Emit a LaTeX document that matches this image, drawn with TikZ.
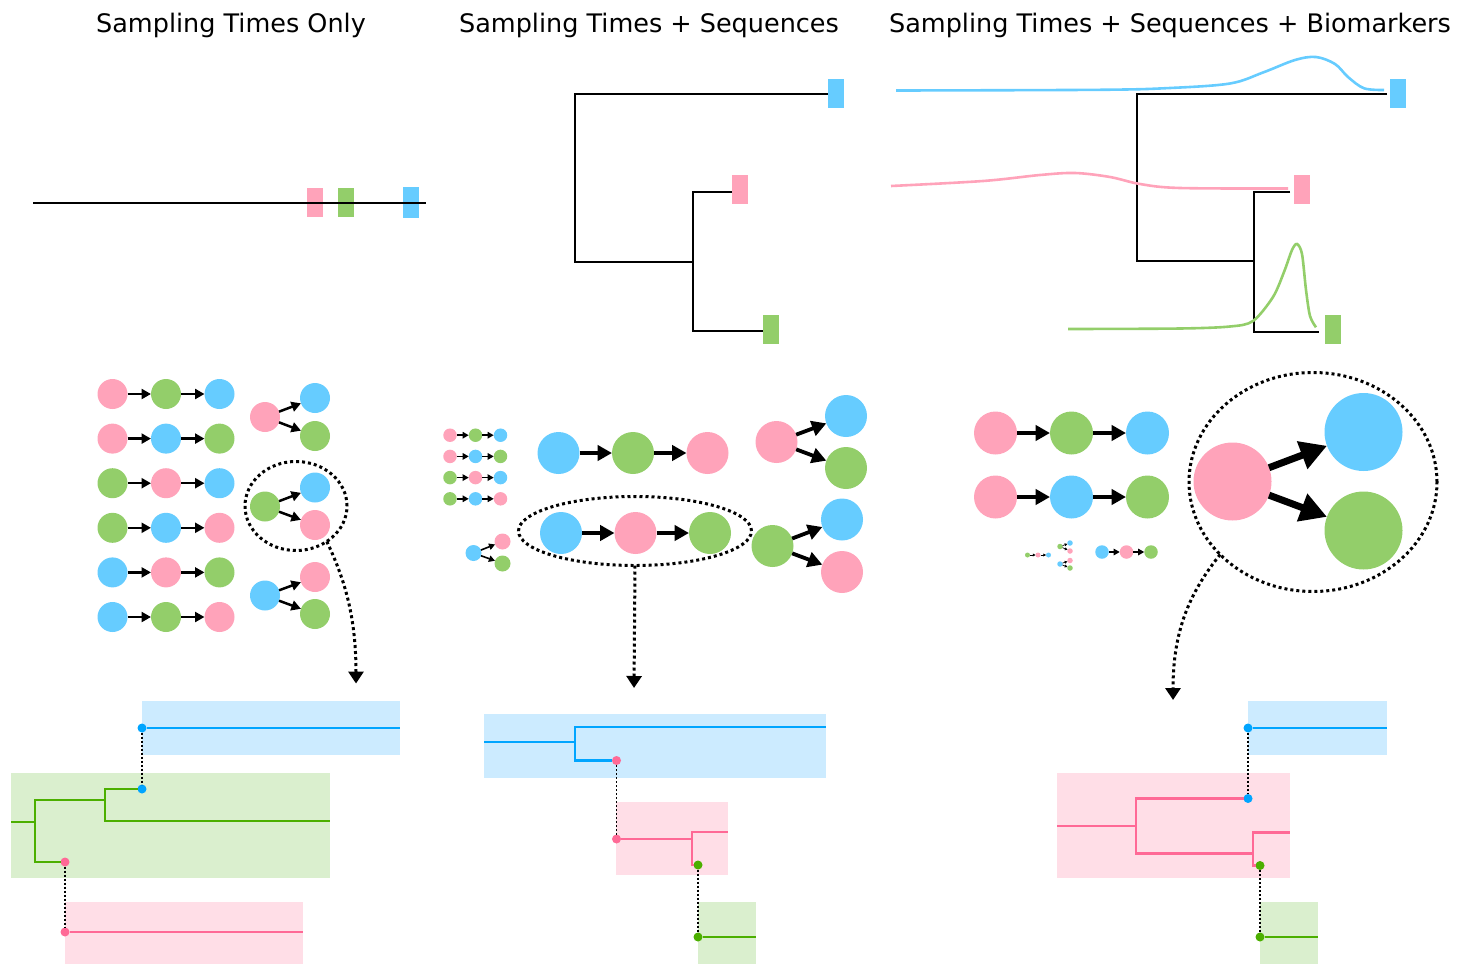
\documentclass[tikz,border=0pt]{standalone}
\usepackage{fontspec}
\setmainfont{DejaVu Sans}
\usetikzlibrary{arrows.meta, positioning, calc, shapes.geometric}

\definecolor{cpink}{HTML}{FFA3BA}
\definecolor{cgreen}{HTML}{93CE6A}
\definecolor{cblue}{HTML}{66CCFF}
\definecolor{tpink}{HTML}{FF6996}
\definecolor{tgreen}{HTML}{4CAF00}
\definecolor{tblue}{HTML}{00A5FF}
\definecolor{bpink}{HTML}{FFDEE7}
\definecolor{bgreen}{HTML}{DAEFCE}
\definecolor{bblue}{HTML}{CCEBFF}

\begin{document}
\begin{tikzpicture}[
    x=1pt, y=-1pt,
    line width=2.3pt,
    title/.style={anchor=base, font=\fontsize{25.5}{30}\selectfont},
    ball/.style={circle, inner sep=0pt, outer sep=0pt, minimum size=#1},
    ball/.default=30pt,
    leaf/.style={circle, inner sep=0pt, outer sep=0pt, minimum size=9pt},
    tipbox/.style={rectangle, inner sep=0pt, outer sep=0pt, minimum width=16pt, minimum height=29pt},
    link/.style={line width=#1, -{Triangle[length=0pt 3.8, width=0pt 4]}},
    ring/.style={ellipse, draw, inner sep=0pt, outer sep=0pt, line width=3pt, dash pattern=on 3pt off 3pt},
    zoomto/.style={line width=3pt, dash pattern=on 3pt off 3pt, -{Triangle[length=12pt, width=15pt]}},
    joint/.style={line width=1.6pt, dash pattern=on 2pt off 2pt}
  ]
  \useasboundingbox (0,0) rectangle (1466,964);

  % --- titulos ---
  \node[title] (h1) at (231,32)  {Sampling Times Only};
  \node[title] (h2) at (649,32)  {Sampling Times + Sequences};
  \node[title] (h3) at (1170,32) {Sampling Times + Sequences + Biomarkers};

  % --- fila superior: tiempos de muestreo ---
  \node[tipbox, fill=cpink] (s1p) at (315,202.5) {};
  \node[tipbox, fill=cgreen] (s1g) at (346,202.5) {};
  \node[tipbox, fill=cblue, minimum height=31pt] (s1b) at (410.5,202.5) {};
  \draw (33,203) -- (426,203);

  % --- fila superior: arbol ---
  \node[tipbox, fill=cblue]  (s2b) at (836,93.5) {};
  \node[tipbox, fill=cpink]  (s2p) at (740,189.5) {};
  \node[tipbox, fill=cgreen] (s2g) at (771,329.5) {};
  \draw (828,94) -| (575,262) -- (693,262);
  \draw (732,192) -| (693,331) -- (763,331);

  % --- fila superior: arbol con biomarcadores ---
  \node[tipbox, fill=cblue]  (s3b) at (1398,93.5) {};
  \node[tipbox, fill=cpink]  (s3p) at (1302,189.5) {};
  \node[tipbox, fill=cgreen] (s3g) at (1333,329.5) {};
  \draw (1387,94) -| (1137,261) -- (1254,261);
  \draw (1290,192) -| (1254,332) -- (1319,332);
  \draw[cblue, line width=2.6pt] plot[smooth, tension=0.55] coordinates {(896,90.5) (1100,89.8) (1170,88) (1230,83.5) (1263,72.5) (1295,60) (1316,57) (1335,64) (1348,77) (1364,88.3) (1384,90)};
  \draw[cpink, line width=2.6pt] plot[smooth, tension=0.55] coordinates {(891,186) (983,181) (1040,175) (1075,173) (1110,177) (1140,184) (1180,188) (1288,188.5)};
  \draw[cgreen, line width=2.6pt] plot[smooth, tension=0.5] coordinates {(1068,329) (1180,328.5) (1230,326.5) (1253,321) (1273,297) (1284,272) (1292,250) (1297,244) (1302,254) (1306,290) (1310,316) (1316,327.3)};

  % --- cadenas de transmision (panel 1) ---
  \foreach \ca/\cb/\cc [count=\i] in {cpink/cgreen/cblue, cpink/cblue/cgreen, cgreen/cpink/cblue, cgreen/cblue/cpink, cblue/cpink/cgreen, cblue/cgreen/cpink} {
    \node[ball, fill=\ca] (r\i-a) at (112.5,{349.4+44.6*\i}) {};
    \node[ball, fill=\cb] (r\i-b) at (166,{349.4+44.6*\i}) {};
    \node[ball, fill=\cc] (r\i-c) at (219.5,{349.4+44.6*\i}) {};
    \draw[link=2.5pt] (r\i-a) -- (r\i-b);
    \draw[link=2.5pt] (r\i-b) -- (r\i-c);
  }
  \node[ball, fill=cpink]  (f1)  at (265,417) {};
  \node[ball, fill=cblue]  (f1a) at (315,398) {};
  \node[ball, fill=cgreen] (f1b) at (315,436) {};
  \node[ball, fill=cgreen] (f2)  at (265,506.5) {};
  \node[ball, fill=cblue]  (f2a) at (315,487.5) {};
  \node[ball, fill=cpink]  (f2b) at (315,525) {};
  \node[ball, fill=cblue]  (f3)  at (265,595.5) {};
  \node[ball, fill=cpink]  (f3a) at (315,577) {};
  \node[ball, fill=cgreen] (f3b) at (315,614) {};
  \draw[link=2.5pt] (f1) -- (f1a);
  \draw[link=2.5pt] (f1) -- (f1b);
  \draw[link=2.5pt] (f2) -- (f2a);
  \draw[link=2.5pt] (f2) -- (f2b);
  \draw[link=2.5pt] (f3) -- (f3a);
  \draw[link=2.5pt] (f3) -- (f3b);
  \node[ring, minimum width=102pt, minimum height=89pt] (z1) at (296,506) {};
  \coordinate (z1end) at (356,683.5);
  \draw[zoomto] (z1.-49) .. controls (344,578) and (356,615) .. (z1end);

  % --- cadenas de transmision (panel 2) ---
  \foreach \ca/\cb/\cc [count=\i] in {cpink/cgreen/cblue, cpink/cblue/cgreen, cgreen/cpink/cblue, cgreen/cblue/cpink} {
    \node[ball=13.5pt, fill=\ca] (q\i-a) at (450,{414+21.2*\i}) {};
    \node[ball=13.5pt, fill=\cb] (q\i-b) at (475.5,{414+21.2*\i}) {};
    \node[ball=13.5pt, fill=\cc] (q\i-c) at (500.5,{414+21.2*\i}) {};
    \draw[link=1.6pt] (q\i-a) -- (q\i-b);
    \draw[link=1.6pt] (q\i-b) -- (q\i-c);
  }
  \node[ball=16pt, fill=cblue]  (g1)  at (473.5,553) {};
  \node[ball=16pt, fill=cpink]  (g1a) at (502.5,541.5) {};
  \node[ball=16pt, fill=cgreen] (g1b) at (502.5,563.5) {};
  \draw[link=1.6pt] (g1) -- (g1a);
  \draw[link=1.6pt] (g1) -- (g1b);

  \node[ball=42pt, fill=cblue]  (m1a) at (558.5,453) {};
  \node[ball=42pt, fill=cgreen] (m1b) at (633,453) {};
  \node[ball=42pt, fill=cpink]  (m1c) at (707.5,453) {};
  \node[ball=42pt, fill=cblue]  (m2a) at (561,533) {};
  \node[ball=42pt, fill=cpink]  (m2b) at (635.5,533) {};
  \node[ball=42pt, fill=cgreen] (m2c) at (710,533) {};
  \draw[link=3.8pt] (m1a) -- (m1b);
  \draw[link=3.8pt] (m1b) -- (m1c);
  \draw[link=3.8pt] (m2a) -- (m2b);
  \draw[link=3.8pt] (m2b) -- (m2c);
  \node[ball=42pt, fill=cpink]  (g2)  at (776.5,442) {};
  \node[ball=42pt, fill=cblue]  (g2a) at (846,416) {};
  \node[ball=42pt, fill=cgreen] (g2b) at (846,468) {};
  \node[ball=42pt, fill=cgreen] (g3)  at (772.5,546) {};
  \node[ball=42pt, fill=cblue]  (g3a) at (842,519.5) {};
  \node[ball=42pt, fill=cpink]  (g3b) at (842,572) {};
  \draw[link=3.8pt] (g2) -- (g2a);
  \draw[link=3.8pt] (g2) -- (g2b);
  \draw[link=3.8pt] (g3) -- (g3a);
  \draw[link=3.8pt] (g3) -- (g3b);
  \node[ring, minimum width=233pt, minimum height=69pt] (z2) at (635,531) {};
  \coordinate (z2end) at (634,688);
  \draw[zoomto] (z2.south) -- (z2end);

  % --- cadenas de transmision (panel 3) ---
  \node[ball=43pt, fill=cpink]  (k1a) at (995.5,433) {};
  \node[ball=43pt, fill=cgreen] (k1b) at (1071.5,433) {};
  \node[ball=43pt, fill=cblue]  (k1c) at (1147.5,433) {};
  \node[ball=43pt, fill=cpink]  (k2a) at (995.5,497) {};
  \node[ball=43pt, fill=cblue]  (k2b) at (1071.5,497) {};
  \node[ball=43pt, fill=cgreen] (k2c) at (1147.5,497) {};
  \draw[link=3.8pt] (k1a) -- (k1b);
  \draw[link=3.8pt] (k1b) -- (k1c);
  \draw[link=3.8pt] (k2a) -- (k2b);
  \draw[link=3.8pt] (k2b) -- (k2c);
  % miniaturas
  \node[ball=5pt, fill=cgreen] (t1a) at (1027.5,555) {};
  \node[ball=5pt, fill=cpink]  (t1b) at (1038,555) {};
  \node[ball=5pt, fill=cblue]  (t1c) at (1048.5,555) {};
  \draw[link=0.7pt] (t1a) -- (t1b);
  \draw[link=0.7pt] (t1b) -- (t1c);
  \node[ball=5.5pt, fill=cgreen] (t2)  at (1060,546.5) {};
  \node[ball=5.5pt, fill=cblue]  (t2a) at (1070,543) {};
  \node[ball=5.5pt, fill=cpink]  (t2b) at (1070,551) {};
  \node[ball=5.5pt, fill=cblue]  (t3)  at (1060,564) {};
  \node[ball=5.5pt, fill=cpink]  (t3a) at (1070,560.5) {};
  \node[ball=5.5pt, fill=cgreen] (t3b) at (1070,568) {};
  \draw[link=0.7pt] (t2) -- (t2a);
  \draw[link=0.7pt] (t2) -- (t2b);
  \draw[link=0.7pt] (t3) -- (t3a);
  \draw[link=0.7pt] (t3) -- (t3b);
  \node[ball=13.5pt, fill=cblue]  (u1a) at (1102,552) {};
  \node[ball=13.5pt, fill=cpink]  (u1b) at (1126.5,552) {};
  \node[ball=13.5pt, fill=cgreen] (u1c) at (1151,552) {};
  \draw[link=1.6pt] (u1a) -- (u1b);
  \draw[link=1.6pt] (u1b) -- (u1c);
  % par ampliado
  \node[ball=78pt, fill=cpink]  (w)  at (1232.5,481.5) {};
  \node[ball=78pt, fill=cblue]  (wa) at (1363.5,432) {};
  \node[ball=78pt, fill=cgreen] (wb) at (1363.5,530.5) {};
  \draw[link=7pt] (w) -- (wa);
  \draw[link=7pt] (w) -- (wb);
  \node[ring, minimum width=248pt, minimum height=219pt] (z3) at (1313,482) {};
  \coordinate (z3end) at (1173,700);
  \draw[zoomto] (z3.218.5) .. controls (1190,592) and (1173,630) .. (z3end);

  % --- arboles de transmision (panel 1) ---
  \fill[bblue]  (142,701) rectangle (400,755);
  \fill[bgreen] (11,773) rectangle (330,878);
  \fill[bpink]  (65,902) rectangle (303,964);
  \node[leaf, fill=tblue] (l1a) at (142,728) {};
  \node[leaf, fill=tblue] (l1b) at (142,789) {};
  \node[leaf, fill=tpink] (l1c) at (65,862) {};
  \node[leaf, fill=tpink] (l1d) at (65,932) {};
  \draw[tblue]  (l1a) -- (400,728);
  \draw[tgreen] (11,822) -- (35,822);
  \draw[tgreen] (l1c) -| (35,800) -| (105,821) -- (330,821);
  \draw[tgreen] (105,821) |- (l1b);
  \draw[tpink]  (l1d) -- (303,932);
  \draw[joint] (l1a) -- (l1b);
  \draw[joint] (l1c) -- (l1d);

  % --- arboles de transmision (panel 2) ---
  \fill[bblue]  (484,714) rectangle (826,778);
  \fill[bpink]  (616,802) rectangle (728,875);
  \fill[bgreen] (698,902) rectangle (756,964);
  \node[leaf, fill=tpink]  (l2a) at (616.5,760.5) {};
  \node[leaf, fill=tpink]  (l2b) at (616.5,839) {};
  \node[leaf, fill=tgreen] (l2c) at (698,865) {};
  \node[leaf, fill=tgreen] (l2d) at (698,937) {};
  \draw[tblue]  (484,742) -- (575,742);
  \draw[tblue]  (l2a) -| (575,727) -- (826,727);
  \draw[tpink]  (l2b) -- (692,839);
  \draw[tpink]  (l2c) -| (692,832) -- (728,832);
  \draw[tgreen] (l2d) -- (756,937);
  \draw[joint] (l2a) -- (l2b);
  \draw[joint] (l2c) -- (l2d);

  % --- arboles de transmision (panel 3) ---
  \fill[bblue]  (1248,701) rectangle (1387,755);
  \fill[bpink]  (1057,773) rectangle (1290,878);
  \fill[bgreen] (1260,902) rectangle (1318,964);
  \node[leaf, fill=tblue]  (l3a) at (1248,728) {};
  \node[leaf, fill=tblue]  (l3b) at (1248,798.5) {};
  \node[leaf, fill=tgreen] (l3c) at (1260,865.5) {};
  \node[leaf, fill=tgreen] (l3d) at (1260,937) {};
  \draw[tblue]  (l3a) -- (1387,728);
  \draw[tpink]  (1057,826) -- (1136,826);
  \draw[tpink]  (l3b) -| (1136,853.5) -- (1253,853.5);
  \draw[tpink]  (l3c) -| (1253,832.5) -- (1290,832.5);
  \draw[tgreen] (l3d) -- (1318,937);
  \draw[joint] (l3a) -- (l3b);
  \draw[joint] (l3c) -- (l3d);
\end{tikzpicture}
\end{document}
